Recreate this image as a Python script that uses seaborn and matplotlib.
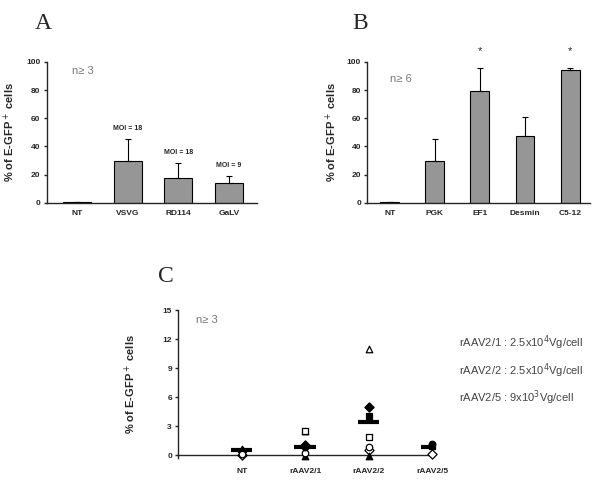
import matplotlib
matplotlib.use("Agg")
import matplotlib.pyplot as plt
import seaborn as sns
import numpy as np
import pandas as pd

# Panel A: pseudotypes
a_cats = ["NT", "VSVG", "RD114", "GaLV"]
a_vals = [0.5, 29.5, 17.5, 14.0]
a_errs = [0.3, 15.5, 10.5, 5.0]
a_moi = ["", "MOI = 18", "MOI = 18", "MOI = 9"]

# Panel B: promoters
b_cats = ["NT", "PGK", "EF1", "Desmin", "C5-12"]
b_vals = [0.5, 30.0, 79.0, 47.5, 94.0]
b_errs = [0.3, 15.5, 17.0, 13.5, 1.5]
b_star = ["", "", "*", "", "*"]

# Panel C: rAAV serotypes, individual points
c_cats = ["NT", "rAAV2/1", "rAAV2/2", "rAAV2/5"]
c_means = [0.5, 0.9, 3.4, 0.8]
c_pt_cat = ["NT", "NT", "NT", "NT",
            "rAAV2/1", "rAAV2/1", "rAAV2/1", "rAAV2/1", "rAAV2/1", "rAAV2/1",
            "rAAV2/2", "rAAV2/2", "rAAV2/2", "rAAV2/2", "rAAV2/2", "rAAV2/2", "rAAV2/2",
            "rAAV2/5", "rAAV2/5", "rAAV2/5"]
c_pt_val = [0.65, 0.45, 0.15, 0.05,
            2.5, 2.5, 1.05, 0.9, 0.2, -0.05,
            11.0, 5.0, 4.1, 1.9, 0.8, 0.5, -0.05,
            1.2, 1.0, 0.1]
c_pt_mark = ["^", "D", "o", "D",
             "s", "^", "D", "o", "o", "^",
             "^", "D", "s", "s", "o", "D", "^",
             "o", "s", "D"]
c_pt_fill = [False, True, False, False,
             False, False, True, True, False, True,
             False, True, True, False, False, False, True,
             True, True, False]
dose_text = ["rAAV2/1 : 2.5x10$^4$Vg/cell",
             "rAAV2/2 : 2.5x10$^4$Vg/cell",
             "rAAV2/5 : 9x10$^3$Vg/cell"]

sns.set_style("ticks")
plt.rcParams['font.family'] = ['Liberation Sans', 'DejaVu Sans']

fig = plt.figure(figsize=(6.0, 4.91), dpi=100)
bar_color = "#969696"
ylab = "% of E-GFP$^+$ cells"


def style_axis(ax, label_x):
    sns.despine(ax=ax)
    ax.spines['left'].set_linewidth(1.0)
    ax.spines['bottom'].set_linewidth(1.0)
    ax.tick_params(axis='y', labelsize=6, length=2.5, width=1, pad=2)
    ax.tick_params(axis='x', labelsize=6, length=0, pad=5)
    for t in ax.get_xticklabels() + ax.get_yticklabels():
        t.set_fontweight('bold')
    ax.set_xlabel("")
    ax.set_ylabel(ylab, fontsize=8, fontweight='bold')
    ax.yaxis.set_label_coords(label_x, 0.5)


def bar_panel(ax, cats, vals, errs, width, xlim, label_x):
    sns.barplot(x=cats, y=vals, color=bar_color, edgecolor="black",
                linewidth=0.8, width=width, ax=ax, saturation=1)
    pos = np.arange(len(cats))
    ax.errorbar(pos, vals, yerr=[np.zeros(len(errs)), errs], fmt='none',
                ecolor='black', elinewidth=0.8, capsize=2.5, capthick=0.8)
    ax.set_ylim(0, 100)
    ax.set_yticks(np.arange(0, 101, 20))
    ax.set_xlim(*xlim)
    style_axis(ax, label_x)


# Panel A
axA = fig.add_axes([0.078, 0.587, 0.350, 0.287])
bar_panel(axA, a_cats, a_vals, a_errs, 0.55, (-0.6, 3.55), -0.143)
for i, lab in enumerate(a_moi):
    if lab:
        axA.text(i, a_vals[i] + a_errs[i] + 5, lab, ha='center', va='bottom',
                 fontsize=5, fontweight='bold')
axA.text(0.12, 0.97, "n≥ 3", transform=axA.transAxes, ha='left', va='top',
         fontsize=8, color='#777777')

# Panel B
axB = fig.add_axes([0.612, 0.587, 0.372, 0.287])
bar_panel(axB, b_cats, b_vals, b_errs, 0.42, (-0.5, 4.45), -0.126)
for i, s in enumerate(b_star):
    if s:
        axB.text(i, 104, s, ha='center', va='bottom', fontsize=8, clip_on=False)
axB.text(0.1, 0.88, "n≥ 6", transform=axB.transAxes, ha='left', va='center',
         fontsize=8, color='#777777')

# Panel C
axC = fig.add_axes([0.297, 0.067, 0.423, 0.301])
pts = pd.DataFrame({"cat": c_pt_cat, "val": c_pt_val,
                    "mark": c_pt_mark, "fill": c_pt_fill})
pts["x"] = pts["cat"].map({c: i + 1 for i, c in enumerate(c_cats)})
for (m, f), grp in pts.groupby(["mark", "fill"]):
    sns.scatterplot(data=grp, x="x", y="val", marker=m, s=22,
                    color="black" if f else "white", edgecolor="black",
                    linewidth=0.9, ax=axC, zorder=3, clip_on=False)
cpos = np.arange(1, len(c_cats) + 1)
axC.hlines(c_means, cpos - 0.17, cpos + 0.17, colors='black', lw=3, zorder=4)
axC.set_xlim(0, 4)
axC.set_ylim(-0.3, 15)
axC.set_yticks(np.arange(0, 16, 3))
axC.set_xticks(cpos)
axC.set_xticklabels(c_cats)
axC.spines['bottom'].set_position(('data', 0))
style_axis(axC, -0.157)
axC.tick_params(axis='x', pad=9)
axC.text(0.07, 0.97, "n≥ 3", transform=axC.transAxes, ha='left', va='top',
         fontsize=8, color='#777777')

for i, t in enumerate(dose_text):
    fig.text(0.765, 1 - (343 + 27.5 * i) / 491, t, ha='left', va='center',
             fontsize=8, color='#444444')

# panel letters
for lab, x, y in [("A", 0.058, 0.953), ("B", 0.588, 0.953), ("C", 0.263, 0.437)]:
    fig.text(x, y, lab, fontsize=17, family='Liberation Serif', ha='left', va='center')

plt.savefig("out.png", dpi=100)
